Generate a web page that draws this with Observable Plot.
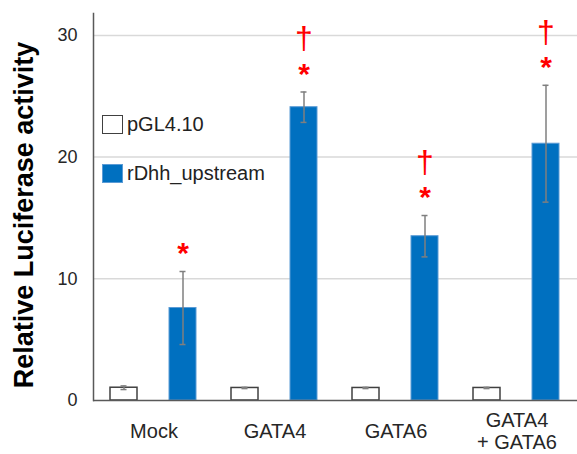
<!DOCTYPE html>
<html><head><meta charset="utf-8">
<script src="https://cdn.jsdelivr.net/npm/d3@7"></script>
<script src="https://cdn.jsdelivr.net/npm/@observablehq/plot@0.6"></script>
<style>
body{margin:0;background:#fff;font-family:"Liberation Sans",Arial,sans-serif;}
#wrap{position:relative;width:577px;height:454px;}
.leg{position:absolute;left:102px;display:flex;align-items:center;font-size:20px;color:#222;height:22px;}
.sw{width:21px;height:19px;box-sizing:border-box;margin-right:4px;}
</style></head><body><div id="wrap"></div>
<script>
const groups = ["Mock", "GATA4", "GATA6", "GATA4\n+ GATA6"];
const series = ["pGL4.10", "rDhh_upstream"];
const pglMean = [1.05, 1.03, 1.03, 1.03];
const pglErr = [0.15, 0.05, 0.05, 0.05];
const rdhhMean = [7.6, 24.1, 13.5, 21.1];
const rdhhErr = [3.0, 1.25, 1.7, 4.8];
const stars = [true, true, true, true];
const daggers = [false, true, true, true];
const yTicks = [0, 10, 20, 30];
const colors = ["#ffffff", "#0070C0"];

const rows = groups.flatMap((g, i) => [
  {group: g, series: series[0], mean: pglMean[i], lo: pglMean[i] - pglErr[i], hi: pglMean[i] + pglErr[i]},
  {group: g, series: series[1], mean: rdhhMean[i], lo: rdhhMean[i] - rdhhErr[i], hi: rdhhMean[i] + rdhhErr[i]}
]);
const notes = groups.map((g, i) => ({group: g, series: series[1], top: rdhhMean[i] + rdhhErr[i], star: stars[i], dagger: daggers[i]}));

const chart = Plot.plot({
  width: 577, height: 454,
  marginLeft: 93, marginRight: 0, marginTop: 13, marginBottom: 54,
  style: {fontFamily: "Liberation Sans, Arial, sans-serif", background: "#fff"},
  fx: {domain: groups, padding: 0, axis: null},
  x: {domain: series, paddingInner: 0.537, paddingOuter: 0.28, axis: null},
  y: {domain: [0, 31.8]},
  color: {domain: series, range: colors},
  marks: [
    Plot.gridY(yTicks.filter(t => t > 0), {stroke: "#d9d9d9", strokeOpacity: 1, strokeWidth: 1.5}),
    Plot.barY(rows.filter(d => d.series === series[0]), {fx: "group", x: "series", y: "mean", fill: "series", stroke: "#404040", strokeWidth: 1.5}),
    Plot.barY(rows.filter(d => d.series === series[1]), {fx: "group", x: "series", y: "mean", fill: "series", stroke: "#5B9BD5", strokeWidth: 1}),
    Plot.ruleX(rows, {fx: "group", x: "series", y1: "lo", y2: "hi", stroke: "#7f7f7f", strokeWidth: 1.5}),
    Plot.tickY(rows, {fx: "group", x: "series", y: "lo", stroke: "#7f7f7f", strokeWidth: 1.5, insetLeft: 10.5, insetRight: 10.5}),
    Plot.tickY(rows, {fx: "group", x: "series", y: "hi", stroke: "#7f7f7f", strokeWidth: 1.5, insetLeft: 10.5, insetRight: 10.5}),
    Plot.ruleY([0], {stroke: "#595959", strokeWidth: 1.5}),
    Plot.frame({anchor: "left", facetAnchor: "left", stroke: "#595959", strokeWidth: 1.5}),
    Plot.axisY({ticks: yTicks, tickSize: 0, tickPadding: 16, fontSize: 18, label: null, fill: "#262626"}),
    Plot.text(notes.filter(d => d.star), {fx: "group", x: "series", y: "top", text: () => "*", dy: -18, fontSize: 30, fontWeight: "bold", fill: "#ff0000"}),
    Plot.text(notes.filter(d => d.dagger), {fx: "group", x: "series", y: "top", text: () => "\u2020", dy: -53, fontSize: 32, fill: "#ff0000"}),
    Plot.text(groups, {fx: d => d, text: d => d, frameAnchor: "bottom", dy: 30, lineAnchor: "middle", lineHeight: 1.1, fontSize: 20, fill: "#262626"}),
    Plot.text([groups[0]], {fx: d => d, text: () => "Relative Luciferase activity", frameAnchor: "left", textAnchor: "middle", rotate: -90, dx: -69, dy: 8, fontSize: 27, fontWeight: "bold", fill: "#000"})
  ]
});
const wrap = document.getElementById("wrap");
wrap.appendChild(chart);
const legTops = [113, 162];
series.forEach((s, i) => {
  const d = document.createElement("div");
  d.className = "leg";
  d.style.top = legTops[i] + "px";
  const sw = document.createElement("span");
  sw.className = "sw";
  sw.style.background = colors[i];
  sw.style.border = i === 0 ? "1.5px solid #404040" : "1px solid #5B9BD5";
  d.appendChild(sw);
  d.appendChild(document.createTextNode(s));
  wrap.appendChild(d);
});
</script></body></html>
